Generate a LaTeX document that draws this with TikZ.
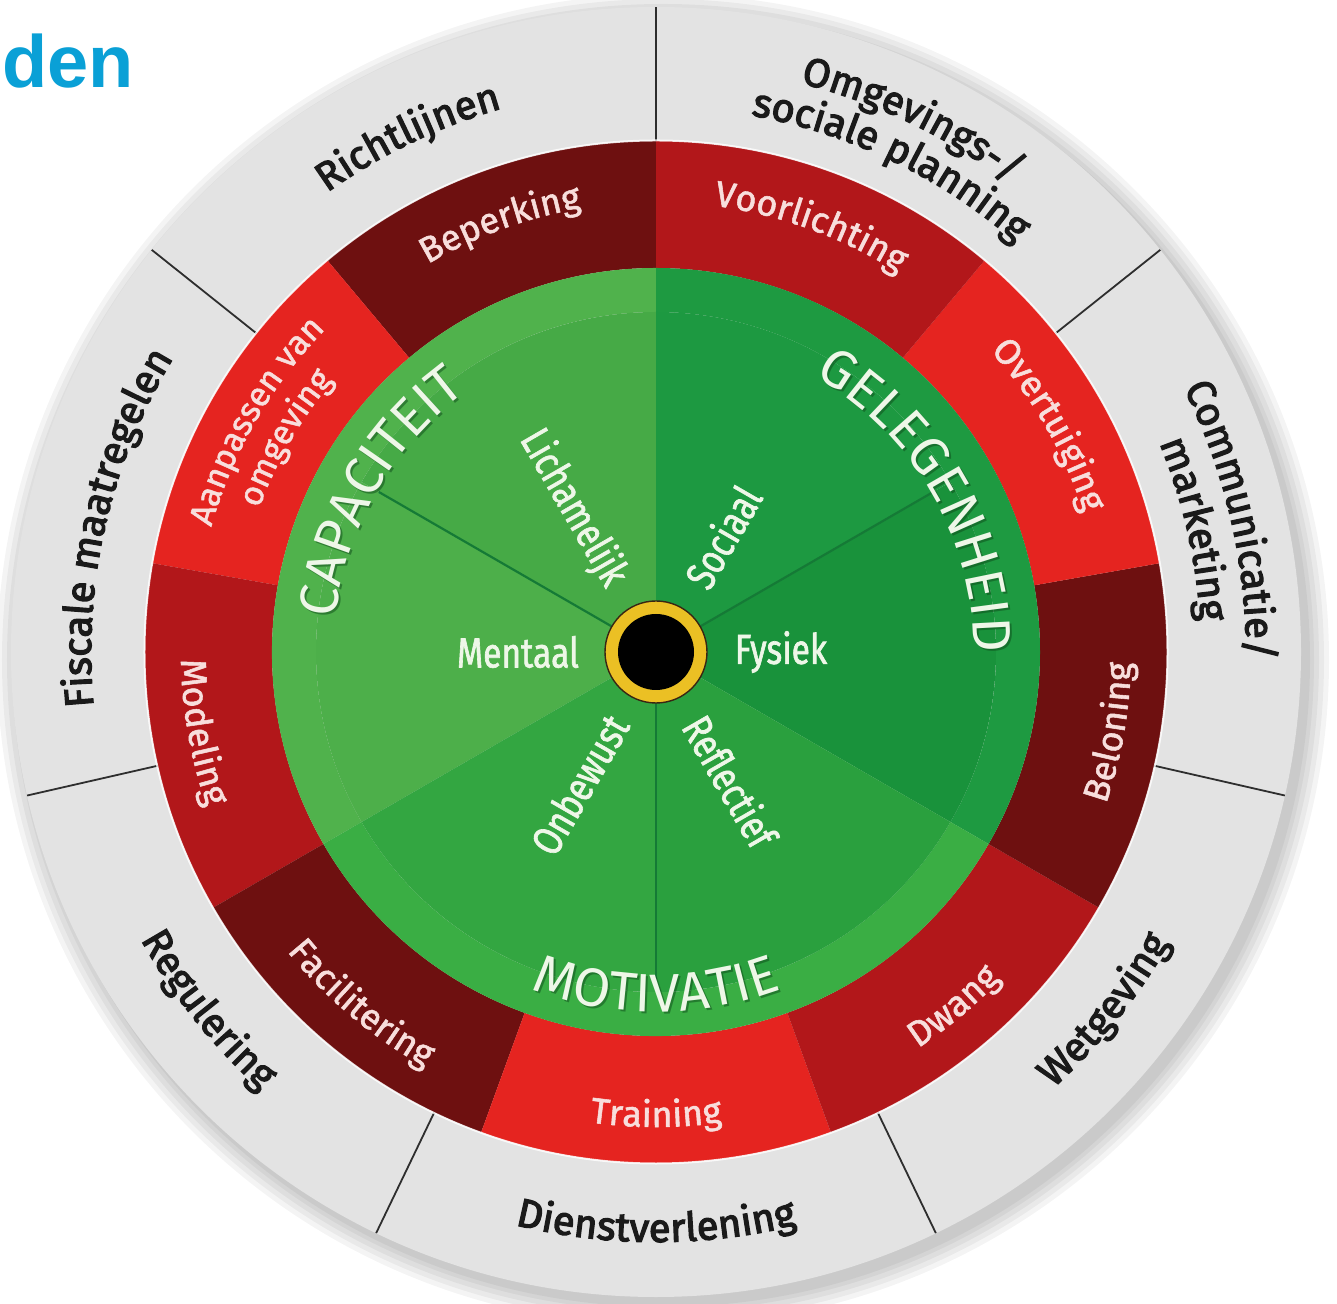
\documentclass[tikz,border=0pt]{standalone}
\usepackage{fontspec}
\usetikzlibrary{decorations.text}
\newfontfamily\fira{Fira Sans}
\newfontfamily\firamed[FakeBold=3]{Fira Sans}
\newfontfamily\firasemi[FakeBold=1.5]{Fira Sans}
\newfontfamily\firacond[FakeStretch=0.8,FakeBold=1.5]{Fira Sans}
\newfontfamily\libsans{Liberation Sans}
\definecolor{titleblue}{HTML}{0AA0D6}
\definecolor{ringgrey}{HTML}{E3E3E3}
\definecolor{divgrey}{HTML}{2E2E2E}
\definecolor{greytext}{HTML}{1A1A1A}
\definecolor{reddark}{HTML}{6E1010}
\definecolor{redmed}{HTML}{B2171A}
\definecolor{redbright}{HTML}{E52420}
\definecolor{redtext}{HTML}{F8DEDC}
\definecolor{capband}{HTML}{50B24C}
\definecolor{caplich}{HTML}{46AA46}
\definecolor{capment}{HTML}{4DAF4A}
\definecolor{gelband}{HTML}{1E9A41}
\definecolor{gelsoc}{HTML}{1D9941}
\definecolor{gelfys}{HTML}{19923B}
\definecolor{motband}{HTML}{3AAE44}
\definecolor{motonb}{HTML}{33A641}
\definecolor{motref}{HTML}{2AA03E}
\definecolor{subline}{HTML}{157A36}
\definecolor{labwhite}{HTML}{EEF7E8}
\definecolor{shadowgreen}{HTML}{0E4A1A}
\definecolor{ringyellow}{HTML}{EBC024}
\newcommand\greyf{\firamed\fontsize{20}{24}\selectfont\color{greytext}}
\newcommand\redf{\firasemi\fontsize{18}{22}\selectfont\color{redtext}}
\newcommand\redsmallf{\firasemi\fontsize{17}{20}\selectfont\color{redtext}}
\newcommand\greenf{\fira\fontsize{27}{30}\selectfont\color{labwhite}}
\newcommand\greenshf{\fira\fontsize{27}{30}\selectfont\color{shadowgreen}}
\newcommand\ringseg[5]{\fill[#1] (#2:#4) arc[start angle=#2, end angle=#3, radius=#4] -- (#3:#5) arc[start angle=#3, end angle=#2, radius=#5] -- cycle;}
\newcommand\pieseg[4]{\fill[#1] (0,0) -- (#2:#4) arc[start angle=#2, end angle=#3, radius=#4] -- cycle;}
\newcommand\toparc[5]{\path[decorate,decoration={text along path,text={|#1|#2},text align=center}] ({#3+#5}:#4) arc[start angle={#3+#5},end angle={#3-#5},radius=#4];}
\newcommand\botarc[5]{\path[decorate,decoration={text along path,text={|#1|#2},text align=center}] ({#3-#5}:#4) arc[start angle={#3-#5},end angle={#3+#5},radius=#4];}
\begin{document}
\begin{tikzpicture}[x=0.5pt,y=0.5pt,
  divider/.style={draw=divgrey, line width=0.9pt},
  sublinestyle/.style={draw=subline, line width=1.1pt},
  inlab/.style={font=\firacond\fontsize{21}{21}\selectfont, text=labwhite, inner sep=0pt}]
\useasboundingbox (-656,-652) rectangle (681,652);
\fill[white] (-656,-652) rectangle (681,652);
% title fragment
\node[anchor=base west, inner sep=0pt, font=\libsans\bfseries\fontsize{37}{37}\selectfont, text=titleblue] (title) at (-654,564) {den};
% soft shadow
\foreach \rr in {666,661,656,651,647} \fill[black, opacity=0.045] (7,-8) circle[radius=\rr];
% grey ring
\fill[ringgrey] (0,0) circle[radius=645];
\foreach \k in {0,...,6} \draw[divider] ({90-\k*360/7}:511) -- ({90-\k*360/7}:645);
% red ring
\ringseg{reddark}{90}{130}{384}{511}
\ringseg{redbright}{130}{170}{384}{511}
\ringseg{redmed}{170}{210}{384}{511}
\ringseg{reddark}{210}{250}{384}{511}
\ringseg{redbright}{250}{290}{384}{511}
\ringseg{redmed}{290}{330}{384}{511}
\ringseg{reddark}{330}{370}{384}{511}
\ringseg{redbright}{10}{50}{384}{511}
\ringseg{redmed}{50}{90}{384}{511}
\draw[white, line width=1pt, opacity=0.8] (0,0) circle[radius=511.5];
% green COM-B
\ringseg{capband}{90}{210}{340}{384}
\ringseg{gelband}{-30}{90}{340}{384}
\ringseg{motband}{210}{330}{340}{384}
\pieseg{caplich}{90}{150}{340}
\pieseg{capment}{150}{210}{340}
\pieseg{gelsoc}{30}{90}{340}
\pieseg{gelfys}{-30}{30}{340}
\pieseg{motonb}{210}{270}{340}
\pieseg{motref}{270}{330}{340}
\draw[sublinestyle] (150:50) -- (150:320);
\draw[sublinestyle] (30:50) -- (30:320);
\draw[sublinestyle] (270:50) -- (270:330);
% centre
\fill[ringyellow] (0,0) circle[radius=51];
\draw[black!70!brown, line width=0.7pt] (0,0) circle[radius=51];
\fill[black] (0,0) circle[radius=38];
% inner labels
\node[inlab, rotate=-60] (lich) at (120:166) {Lichamelijk};
\node[inlab, rotate=60] (soc) at (60:133) {Sociaal};
\node[inlab] (ment) at (180:138) {Mentaal};
\node[inlab] (fys) at (0:125) {Fysiek};
\node[inlab, rotate=60] (onb) at (240:153) {Onbewust};
\node[inlab, rotate=-60] (refl) at (300:149) {Reflectief};
% green labels (shadow then text)
\begin{scope}[shift={(2,-2)}, opacity=0.5]
\toparc{\greenshf}{CAPACITEIT}{150}{322}{50}
\toparc{\greenshf}{GELEGENHEID}{30}{318}{50}
\botarc{\greenshf}{MOTIVATIE}{270}{360}{50}
\end{scope}
\toparc{\greenf}{CAPACITEIT}{150}{322}{50}
\toparc{\greenf}{GELEGENHEID}{30}{318}{50}
\botarc{\greenf}{MOTIVATIE}{270}{360}{50}
% red labels
\toparc{\redf}{Beperking}{110}{450}{30}
\toparc{\redsmallf}{Aanpassen van}{150}{462}{30}
\toparc{\redsmallf}{omgeving}{150}{422}{30}
\botarc{\redf}{Modeling}{190}{475}{30}
\botarc{\redf}{Facilitering}{230}{475}{30}
\botarc{\redf}{Training}{270}{475}{30}
\botarc{\redf}{Dwang}{310}{475}{30}
\botarc{\redf}{Beloning}{350}{475}{30}
\toparc{\redf}{Overtuiging}{30}{450}{30}
\toparc{\redf}{Voorlichting}{70}{450}{30}
% grey labels
\toparc{\greyf}{Richtlijnen}{115.7}{565}{40}
\toparc{\greyf}{Omgevings-/}{64.3}{587}{40}
\toparc{\greyf}{sociale planning}{64.3}{545}{40}
\toparc{\greyf}{Communicatie/}{12.9}{590}{40}
\toparc{\greyf}{marketing}{12.9}{545}{40}
\botarc{\greyf}{Wetgeving}{-38.6}{590}{40}
\botarc{\greyf}{Dienstverlening}{270}{590}{40}
\botarc{\greyf}{Regulering}{218.6}{590}{40}
\toparc{\greyf}{Fiscale maatregelen}{167.1}{565}{40}
\end{tikzpicture}
\end{document}
